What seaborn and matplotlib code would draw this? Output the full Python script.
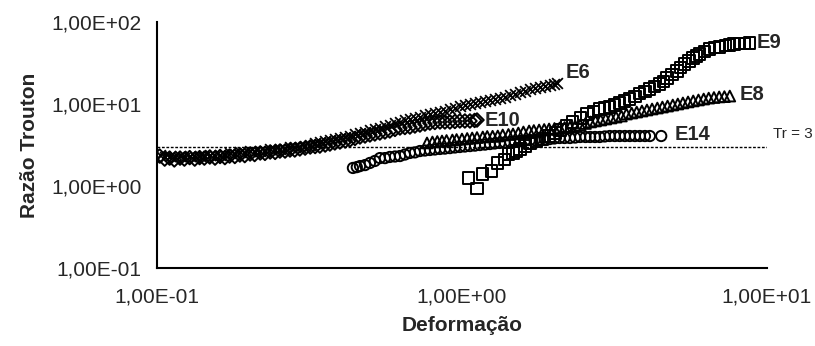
import matplotlib
matplotlib.use("Agg")
import matplotlib.pyplot as plt
import matplotlib.ticker as mticker
import seaborn as sns

# E6 - crosses
e6_x = [0.102, 0.106, 0.110, 0.114, 0.119, 0.123, 0.128, 0.133, 0.138, 0.143,
        0.149, 0.155, 0.161, 0.167, 0.173, 0.180, 0.187, 0.194, 0.202, 0.209,
        0.218, 0.226, 0.235, 0.244, 0.253, 0.263, 0.273, 0.283, 0.294, 0.306,
        0.318, 0.330, 0.342, 0.356, 0.369, 0.383, 0.398, 0.414, 0.429, 0.446,
        0.463, 0.481, 0.499, 0.518, 0.538, 0.559, 0.580, 0.603, 0.626, 0.650,
        0.675, 0.701, 0.728, 0.756, 0.785, 0.815, 0.847, 0.879, 0.913, 0.948,
        0.984, 1.022, 1.062, 1.103, 1.145, 1.19, 1.235, 1.28, 1.33, 1.38,
        1.44, 1.49, 1.55, 1.61, 1.67, 1.73, 1.80, 1.87, 1.94, 2.01, 2.05]
e6_y = [2.39, 2.26, 2.32, 2.19, 2.35, 2.22, 2.32, 2.26, 2.35, 2.29,
        2.42, 2.35, 2.42, 2.39, 2.50, 2.46, 2.57, 2.53, 2.64, 2.60,
        2.71, 2.67, 2.79, 2.75, 2.86, 2.86, 2.95, 2.95, 3.03, 3.11,
        3.20, 3.30, 3.40, 3.54, 3.64, 3.74, 3.85, 3.96, 4.07, 4.25,
        4.43, 4.62, 4.82, 4.96, 5.10, 5.32, 5.54, 5.79, 6.04, 6.30,
        6.56, 6.75, 6.93, 7.25, 7.55, 7.76, 7.98, 8.33, 8.69, 9.06,
        9.44, 9.72, 10.0, 10.3, 10.6, 10.9, 11.2, 11.5, 11.8, 12.3,
        12.9, 13.4, 14.0, 14.6, 15.2, 15.6, 16.1, 16.5, 17.0, 17.5, 18.0]

# E10 - diamonds
e10_x = [0.102, 0.106, 0.110, 0.114, 0.119, 0.123, 0.128, 0.133, 0.138, 0.143,
         0.149, 0.155, 0.161, 0.167, 0.173, 0.180, 0.187, 0.194, 0.202, 0.209,
         0.218, 0.226, 0.235, 0.244, 0.253, 0.263, 0.273, 0.283, 0.294, 0.306,
         0.318, 0.330, 0.342, 0.356, 0.369, 0.383, 0.398, 0.414, 0.429, 0.446,
         0.463, 0.481, 0.499, 0.518, 0.538, 0.559, 0.580, 0.603, 0.626, 0.650,
         0.675, 0.701, 0.728, 0.756, 0.785, 0.815, 0.847, 0.879, 0.913, 0.948,
         0.984, 1.022, 1.062, 1.10, 1.12]
e10_y = [2.32, 2.13, 2.19, 2.08, 2.19, 2.13, 2.22, 2.13, 2.22, 2.19,
         2.26, 2.19, 2.29, 2.22, 2.32, 2.29, 2.39, 2.35, 2.46, 2.42,
         2.53, 2.50, 2.60, 2.57, 2.67, 2.67, 2.75, 2.75, 2.83, 2.90,
         2.99, 3.03, 3.07, 3.16, 3.25, 3.35, 3.44, 3.54, 3.64, 3.80,
         3.96, 4.07, 4.19, 4.31, 4.43, 4.56, 4.69, 4.90, 5.10, 5.17,
         5.24, 5.39, 5.54, 5.70, 5.86, 5.95, 6.04, 6.04, 6.04, 6.12,
         6.21, 6.21, 6.21, 6.30, 6.38]

# E14 - circles
e14_x = [0.439, 0.452, 0.463, 0.481, 0.499, 0.518, 0.538, 0.559, 0.580, 0.603,
         0.626, 0.650, 0.675, 0.701, 0.728, 0.756, 0.785, 0.815, 0.847, 0.879,
         0.913, 0.948, 0.984, 1.022, 1.062, 1.103, 1.145, 1.19, 1.235, 1.28,
         1.33, 1.38, 1.44, 1.49, 1.55, 1.61, 1.67, 1.73, 1.80, 1.87,
         1.94, 2.01, 2.09, 2.17, 2.26, 2.35, 2.44, 2.54, 2.63, 2.73,
         2.83, 2.94, 3.05, 3.17, 3.29, 3.42, 3.55, 3.69, 3.83, 3.98,
         4.13, 4.50]
e14_y = [1.66, 1.70, 1.75, 1.80, 1.91, 2.02, 2.19, 2.19, 2.26, 2.29,
         2.32, 2.42, 2.53, 2.57, 2.67, 2.71, 2.75, 2.79, 2.83, 2.86,
         2.90, 2.95, 2.99, 3.03, 3.07, 3.11, 3.16, 3.20, 3.25, 3.30,
         3.35, 3.40, 3.44, 3.49, 3.54, 3.59, 3.64, 3.64, 3.64, 3.69,
         3.74, 3.80, 3.85, 3.85, 3.85, 3.90, 3.96, 3.96, 3.96, 3.96,
         3.96, 4.02, 4.07, 4.07, 4.07, 4.07, 4.07, 4.07, 4.07, 4.07,
         4.07, 4.07]

# E8 - triangles
e8_x = [0.768, 0.80, 0.83, 0.86, 0.89, 0.93, 0.96, 1.00, 1.04, 1.08,
        1.12, 1.17, 1.21, 1.26, 1.31, 1.36, 1.42, 1.47, 1.53, 1.59,
        1.66, 1.72, 1.79, 1.86, 1.93, 2.01, 2.09, 2.17, 2.26, 2.35,
        2.44, 2.54, 2.64, 2.74, 2.85, 2.96, 3.08, 3.20, 3.33, 3.46,
        3.60, 3.74, 3.89, 4.04, 4.20, 4.37, 4.54, 4.72, 4.91, 5.10,
        5.30, 5.51, 5.73, 5.96, 6.20, 6.44, 6.70, 6.97, 7.25, 7.55]
e8_y = [3.35, 3.44, 3.49, 3.54, 3.59, 3.64, 3.69, 3.74, 3.80, 3.85,
        3.90, 3.96, 4.02, 4.04, 4.07, 4.19, 4.25, 4.31, 4.43, 4.56,
        4.69, 4.75, 4.82, 4.89, 4.96, 5.03, 5.10, 5.17, 5.24, 5.39,
        5.54, 5.79, 6.04, 6.21, 6.38, 6.56, 6.75, 6.93, 7.14, 7.55,
        7.76, 7.98, 8.21, 8.45, 8.69, 8.93, 9.18, 9.44, 9.72, 10.0,
        10.3, 10.6, 10.9, 11.2, 11.5, 11.8, 12.0, 12.2, 12.3, 12.5]

# E9 - squares
e9_x = [1.05, 1.12, 1.17, 1.25, 1.31, 1.38, 1.42, 1.47, 1.51, 1.55,
        1.61, 1.67, 1.75, 1.84, 1.93, 2.02, 2.10, 2.20, 2.31, 2.44,
        2.57, 2.70, 2.83, 2.94, 3.05, 3.17, 3.29, 3.42, 3.55, 3.69,
        3.83, 3.98, 4.13, 4.29, 4.45, 4.57, 4.70, 4.88, 5.07, 5.22,
        5.38, 5.55, 5.72, 5.87, 6.02, 6.25, 6.49, 6.74, 7.00, 7.30,
        7.55, 7.80, 8.14, 8.46, 8.78]
e9_y = [1.25, 0.93, 1.40, 1.52, 1.91, 2.10, 2.46, 2.53, 2.67, 2.83,
        3.07, 3.30, 3.50, 3.74, 4.07, 4.43, 4.82, 5.39, 6.04, 6.75,
        7.55, 8.10, 8.69, 8.95, 9.2, 9.72, 10.3, 10.9, 11.5, 12.3,
        13.3, 14.2, 15.2, 16.3, 17.5, 19.0, 20.8, 23.0, 25.3, 28.0,
        30.7, 33.5, 36.4, 38.5, 40.7, 44.0, 46.9, 48.4, 49.7, 51.5,
        52.5, 53.9, 54.5, 55.0, 55.4]

tr_value = 3
y_ticks = [0.1, 1, 10, 100]
x_ticks = [0.1, 1, 10]

sns.set_style("white")
plt.rcParams['font.family'] = ['Liberation Sans', 'DejaVu Sans']

fig = plt.figure(figsize=(8.15, 3.46), dpi=100)
ax = fig.add_axes([0.1926, 0.2254, 0.7485, 0.7110])

ax.hlines(tr_value, 0.1, 10, colors='black', linestyles=(0, (2.0, 1.2)), linewidth=1.0)

open_kw = dict(facecolor='none', edgecolor='black', linewidth=1.4, ax=ax, legend=False)
sns.scatterplot(x=e10_x, y=e10_y, marker='D', s=48, **open_kw)
sns.scatterplot(x=e6_x, y=e6_y, marker='x', s=60, color='black', linewidth=1.3, ax=ax, legend=False)
sns.scatterplot(x=e14_x, y=e14_y, marker='o', s=55, **open_kw)
sns.scatterplot(x=e8_x, y=e8_y, marker='^', s=60, **open_kw)
sns.scatterplot(x=e9_x, y=e9_y, marker='s', s=65, **open_kw)

ax.set_xscale('log')
ax.set_yscale('log')
ax.set_xlim(0.1, 10)
ax.set_ylim(0.1, 100)
ax.set_xticks(x_ticks)
ax.set_yticks(y_ticks)
ax.xaxis.set_minor_locator(mticker.NullLocator())
ax.yaxis.set_minor_locator(mticker.NullLocator())
fmt = mticker.FuncFormatter(lambda v, p: f"{v:.2E}".replace('.', ','))
ax.xaxis.set_major_formatter(fmt)
ax.yaxis.set_major_formatter(fmt)

for s in ['top', 'right']:
    ax.spines[s].set_visible(False)
for s in ['left', 'bottom']:
    ax.spines[s].set_linewidth(1.5)
    ax.spines[s].set_color('black')
ax.tick_params(axis='both', which='major', direction='out', length=7, width=1.5,
               color='black', labelsize=15, pad=4)
ax.tick_params(axis='x', pad=7)

ax.set_xlabel("Deformação", fontsize=15, fontweight='bold', labelpad=7)
ax.set_ylabel("Razão Trouton", fontsize=15, fontweight='bold', labelpad=9)

lab_kw = dict(fontsize=14.5, fontweight='bold', va='center', ha='left')
ax.text(2.18, 23.9, "E6", **lab_kw)
ax.text(1.19, 6.21, "E10", **lab_kw)
ax.text(4.99, 4.19, "E14", **lab_kw)
ax.text(8.15, 13.2, "E8", **lab_kw)
ax.text(9.27, 57, "E9", clip_on=False, **lab_kw)
ax.text(10.47, 4.3, "Tr = 3", fontsize=11, va='center', ha='left', clip_on=False)

fig.savefig("out.png", dpi=100)
